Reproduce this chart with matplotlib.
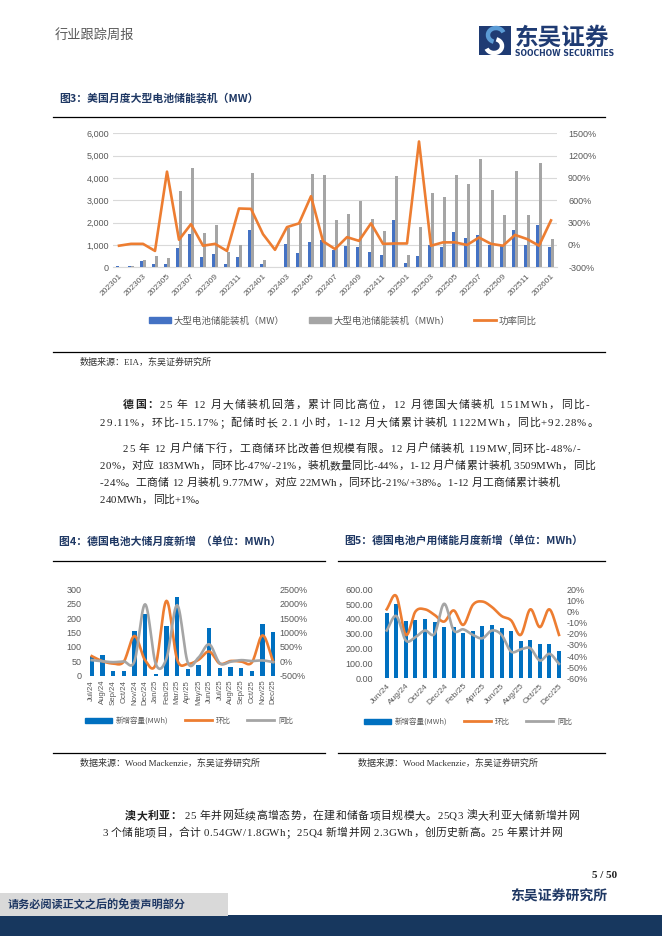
import numpy as np
import matplotlib
matplotlib.use('Agg')
import matplotlib.pyplot as plt
from matplotlib.lines import Line2D
from matplotlib.patches import Rectangle, Patch, Arc
from matplotlib.font_manager import FontProperties
from matplotlib.ticker import FuncFormatter, FixedLocator
from matplotlib.transforms import IdentityTransform

# ------------------------------------------------------------------ data
us_months = ['202301', '202302', '202303', '202304', '202305', '202306', '202307', '202308',
             '202309', '202310', '202311', '202312', '202401', '202402', '202403', '202404',
             '202405', '202406', '202407', '202408', '202409', '202410', '202411', '202412',
             '202501', '202502', '202503', '202504', '202505', '202506', '202507', '202508',
             '202509', '202510', '202511', '202512', '202601']
us_mw = [50, 70, 290, 170, 130, 880, 1500, 480, 580, 170, 440, 1660, 160, 30, 1030, 660,
         1140, 1240, 760, 950, 920, 700, 530, 2120, 200, 520, 980, 900, 1560, 1290, 1460, 1020,
         950, 1650, 1010, 1900, 930]
us_mwh = [30, 50, 330, 520, 430, 3420, 4430, 1550, 1900, 680, 980, 4220, 320, 20, 1750, 2000,
          4180, 4150, 2100, 2370, 2960, 2170, 1610, 4110, 560, 1820, 3320, 3130, 4130, 3740, 4870,
          3460, 2320, 4330, 2350, 4670, 1260]
us_yoy = [-10, 15, 15, -80, 985, 70, 280, -10, 15, -80, 490, 485, 145, -65, 240, 290,
          655, 50, -55, 105, 55, 290, 15, 20, 20, 1390, -10, 35, 35, 0, 100, 15,
          -10, 135, 80, -10, 330]
us_labels = ['大型电池储能装机（MW）', '大型电池储能装机（MWh）', '功率同比']

de_large_months = ['Jul/24', 'Aug/24', 'Sep/24', 'Oct/24', 'Nov/24', 'Dec/24', 'Jan/25', 'Feb/25',
                   'Mar/25', 'Apr/25', 'May/25', 'Jun/25', 'Jul/25', 'Aug/25', 'Sep/25', 'Oct/25',
                   'Nov/25', 'Dec/25']
de_large_mwh = [70, 72, 17, 15, 154, 213, 7, 174, 275, 25, 38, 167, 28, 31, 28, 17, 178, 151]
de_large_mom = [180, 5, -78, -12, 880, 38, -97, 2100, 60, -91, 52, 340, -83, 11, -10, -39, 900, -15]
de_large_yoy = [40, 0, -30, -5, 0, 1980, -95, 100, 1950, -50, 130, 590, -70, -15, 40, 10, 30, -29]

de_home_months = ['Jun/24', 'Jul/24', 'Aug/24', 'Sep/24', 'Oct/24', 'Nov/24', 'Dec/24', 'Jan/25',
                  'Feb/25', 'Mar/25', 'Apr/25', 'May/25', 'Jun/25', 'Jul/25', 'Aug/25', 'Sep/25',
                  'Oct/25', 'Nov/25', 'Dec/25']
de_home_mwh = [443, 499, 389, 396, 400, 378, 346, 346, 308, 321, 353, 362, 342, 321, 254, 261,
               229, 231, 184]
de_home_mom = [2, 14, -21, 0, 2, -3, -9, 1, -12, 6, 9, 4, -4, -8, -21, 2, -14, 2, -21]
de_home_yoy = [-17, -4, -26, -23, -17, -20, 7, -17, -16, -21, -24, -17, -21, -36, -34, -33,
               -44, -38, -47]
de_labels = ['新增容量(MWh)', '环比', '同比']

# ------------------------------------------------------------------ style
W, H = 662, 936
BLUE1 = '#4472C4'
GRAY1 = '#A5A5A5'
ORANGE = '#ED7D31'
BLUE2 = '#0070C0'
TICKC = '#595959'
NAVY = '#1F3864'
CJK = ['Noto Sans CJK SC', 'DejaVu Sans']
CHART = ['Liberation Sans', 'Noto Sans CJK SC']
BODY = ['Liberation Serif', 'Noto Sans CJK SC']

fig = plt.figure(figsize=(W / 100, H / 100), dpi=100)
fig.patch.set_facecolor('white')


def fx(x):
    return x / W


def fy(y):
    return 1 - y / H


def rect(x0, y0, x1, y1):
    return [fx(x0), fy(y1), (x1 - x0) / W, (y1 - y0) / H]


def smooth(x, y, n=14):
    P = np.column_stack([np.asarray(x, float), np.asarray(y, float)])
    P = np.vstack([P[0] - (P[1] - P[0]), P, P[-1] + (P[-1] - P[-2])])
    out = []
    t = np.linspace(0, 1, n, endpoint=False)[:, None]
    for i in range(1, len(P) - 2):
        p0, p1, p2, p3 = P[i - 1], P[i], P[i + 1], P[i + 2]
        pts = 0.5 * ((2 * p1) + (-p0 + p2) * t + (2 * p0 - 5 * p1 + 4 * p2 - p3) * t ** 2
                     + (-p0 + 3 * p1 - 3 * p2 + p3) * t ** 3)
        out.append(pts)
    out.append(P[-2][None, :])
    out = np.vstack(out)
    return out[:, 0], out[:, 1]


def hline(x0, x1, y, lw=0.9):
    fig.add_artist(Line2D([fx(x0), fx(x1)], [fy(y), fy(y)], color='black', lw=lw))


def clean(ax):
    for s in ax.spines.values():
        s.set_visible(False)
    ax.tick_params(length=0)


# ------------------------------------------------------------------ header
fig.text(fx(55), fy(35), '行业跟踪周报', fontsize=9.5, color='#595959',
         family=BODY, va='center', ha='left')
# logo icon
fig.add_artist(Rectangle((479, H - 55), 32, 29, transform=IdentityTransform(),
                         facecolor='#1F3B73', edgecolor='none'))
fig.add_artist(Arc((496, H - 35), 16, 14, theta1=20, theta2=250, transform=IdentityTransform(),
                   color='#5B9BD5', lw=3.2))
fig.add_artist(Arc((494, H - 46), 16, 14, theta1=200, theta2=430, transform=IdentityTransform(),
                   color='white', lw=3.2))
fig.text(fx(515), fy(37.5), '东吴证券', fontsize=17, fontweight='bold', color='#1F3B73',
         family=CJK, va='center', ha='left')
fig.text(fx(515), fy(54), 'SOOCHOW SECURITIES', fontsize=5.6, fontweight='bold', color='#1F3B73',
         family=['DejaVu Sans'], va='center', ha='left')

# ------------------------------------------------------------------ figure 3 title
fig.text(fx(59), fy(98), '图3：美国月度大型电池储能装机（MW）', fontsize=7.8, fontweight='bold',
         color=NAVY, family=CJK, va='center', ha='left')
hline(53, 605, 116.5)

# ------------------------------------------------------------------ chart 1
ax1 = fig.add_axes(rect(113, 133.3, 557, 267.3))
x1 = np.arange(len(us_months))
bw = 0.22
ax1.bar(x1 - bw / 2, us_mw, width=bw, color=BLUE1, zorder=3)
ax1.bar(x1 + bw / 2, us_mwh, width=bw, color=GRAY1, zorder=3)
ax1.set_xlim(-0.5, len(us_months) - 0.5)
ax1.set_ylim(0, 6000)
ax1.set_yticks(np.arange(0, 6001, 1000))
ax1.yaxis.set_major_formatter(FuncFormatter(lambda v, p: f'{int(v):,}'))
ax1.yaxis.grid(True, color='#D9D9D9', lw=0.8, zorder=0)
ax1.set_axisbelow(True)
clean(ax1)
ax1.spines['bottom'].set_visible(True)
ax1.spines['bottom'].set_color('#D9D9D9')
ax1.set_xticks(x1[::2])
ax1.set_xticklabels(us_months[::2], rotation=45, ha='right', rotation_mode='anchor',
                    fontsize=6, color=TICKC, family=CHART)
ax1.tick_params(axis='x', pad=4)
ax1.tick_params(axis='y', labelsize=6.5, labelcolor=TICKC, pad=3)
for lab in ax1.get_yticklabels():
    lab.set_family(CHART)
ax1b = ax1.twinx()
ax1b.plot(x1, us_yoy, color=ORANGE, lw=1.9, solid_joinstyle='round')
ax1b.set_ylim(-300, 1500)
ax1b.set_yticks(np.arange(-300, 1501, 300))
ax1b.yaxis.set_major_formatter(FuncFormatter(lambda v, p: f'{int(v)}%'))
clean(ax1b)
ax1b.tick_params(axis='y', labelsize=6.5, labelcolor=TICKC, pad=8)
for lab in ax1b.get_yticklabels():
    lab.set_family(CHART)

h1 = [Patch(color=BLUE1), Patch(color=GRAY1), Line2D([], [], color=ORANGE, lw=2)]
fig.legend(h1, us_labels, loc='center', bbox_to_anchor=(fx(343), fy(321)), ncol=3,
           frameon=False, prop=FontProperties(family=CJK, size=6.8), labelcolor=TICKC,
           handlelength=2.3, handleheight=0.6, columnspacing=2.6, handletextpad=0.25)

hline(53, 605, 351.5)
fig.text(fx(80), fy(362), '数据来源：EIA，东吴证券研究所', fontsize=6.5, color='#333333',
         family=BODY, va='center', ha='left')

# ------------------------------------------------------------------ body text (justified)
R = fig.canvas.get_renderer()
fp_reg = FontProperties(family=BODY, size=7.8)
fp_bold = FontProperties(family=CJK, size=7.8, weight='bold')


def jline(x0, x1, yc, segments, justify=True):
    chars = []
    for txt, fp in segments:
        for ch in txt:
            chars.append((ch, fp))
    widths = []
    for ch, fp in chars:
        w, h, d = R.get_text_width_height_descent(ch if ch != ' ' else 'a a', fp, ismath=False)
        if ch == ' ':
            w2, _, _ = R.get_text_width_height_descent('aa', fp, ismath=False)
            w = w - w2
        widths.append(w)
    total = sum(widths)
    gap = (x1 - x0 - total) / (len(chars) - 1) if (justify and len(chars) > 1) else 0.0
    xpos = x0
    for (ch, fp), w in zip(chars, widths):
        if ch != ' ':
            fig.text(fx(xpos), fy(yc + 3.8), ch, fontproperties=fp, color='#222222',
                     va='baseline', ha='left')
        xpos += w + gap


jline(123, 589, 404, [('德国：', fp_bold),
                      ('25 年 12 月大储装机回落，累计同比高位，12 月德国大储装机 151MWh，同比-', fp_reg)])
jline(100, 598, 422, [('29.11%，环比-15.17%；配储时长 2.1 小时，1-12 月大储累计装机 1122MWh，同比+92.28%。', fp_reg)])
jline(123, 580, 448, [('25 年 12 月户储下行，工商储环比改善但规模有限。12 月户储装机 119MW,同环比-48%/-', fp_reg)])
jline(100, 595, 465, [('20%，对应 183MWh，同环比-47%/-21%，装机数量同比-44%，1-12 月户储累计装机 3509MWh，同比', fp_reg)])
jline(100, 560, 482, [('-24%。工商储 12 月装机 9.77MW，对应 22MWh，同环比-21%/+38%。1-12 月工商储累计装机', fp_reg)])
jline(100, 0, 499, [('240MWh，同比+1%。', fp_reg)], justify=False)

# ------------------------------------------------------------------ figure 4 / 5 titles
fig.text(fx(59), fy(541), '图4：德国电池大储月度新增  （单位：MWh）', fontsize=7.8, fontweight='bold',
         color=NAVY, family=CJK, va='center', ha='left')
fig.text(fx(344), fy(541), '图5：德国电池户用储能月度新增（单位：MWh）', fontsize=7.8, fontweight='bold',
         color=NAVY, family=CJK, va='center', ha='left')
hline(53, 325, 561)
hline(338, 605, 561)

# ------------------------------------------------------------------ chart 4
ax4 = fig.add_axes(rect(86.4, 589.3, 278.6, 675.7))
x4 = np.arange(len(de_large_months))
ax4.bar(x4, de_large_mwh, width=0.4, color=BLUE2, zorder=2)
ax4.set_xlim(-0.5, len(x4) - 0.5)
ax4.set_ylim(0, 300)
ax4.set_yticks(np.arange(0, 301, 50))
clean(ax4)
ax4.set_xticks(x4)
ax4.set_xticklabels(de_large_months, rotation=90, fontsize=5.6, color=TICKC, family=CHART)
ax4.tick_params(axis='x', pad=3)
ax4.tick_params(axis='y', labelsize=6.5, labelcolor=TICKC, pad=3.5)
for lab in ax4.get_yticklabels():
    lab.set_family(CHART)
ax4b = ax4.twinx()
sx, sy = smooth(x4, de_large_mom)
ax4b.plot(sx, sy, color=ORANGE, lw=1.9)
sx, sy = smooth(x4, de_large_yoy)
ax4b.plot(sx, sy, color=GRAY1, lw=1.9)
ax4b.set_ylim(-500, 2500)
ax4b.set_yticks(np.arange(-500, 2501, 500))
ax4b.yaxis.set_major_formatter(FuncFormatter(lambda v, p: f'{int(v)}%'))
clean(ax4b)
ax4b.tick_params(axis='y', labelsize=6.5, labelcolor=TICKC, pad=0.5)
for lab in ax4b.get_yticklabels():
    lab.set_family(CHART)
h4 = [Patch(color=BLUE2), Line2D([], [], color=ORANGE, lw=2), Line2D([], [], color=GRAY1, lw=2)]
fig.legend(h4, de_labels, loc='center', bbox_to_anchor=(fx(189), fy(721)), ncol=3,
           frameon=False, prop=FontProperties(family=CJK, size=5.4), labelcolor=TICKC,
           handlelength=3.6, handleheight=0.7, columnspacing=2.2, handletextpad=0.5)

# ------------------------------------------------------------------ chart 5
ax5 = fig.add_axes(rect(381.9, 589.3, 563.8, 678.3))
x5 = np.arange(len(de_home_months))
ax5.bar(x5, de_home_mwh, width=0.42, color=BLUE2, zorder=2)
ax5.set_xlim(-0.5, len(x5) - 0.5)
ax5.set_ylim(0, 600)
ax5.set_yticks(np.arange(0, 601, 100))
ax5.yaxis.set_major_formatter(FuncFormatter(lambda v, p: f'{v:.2f}'))
clean(ax5)
ax5.set_xticks(x5[::2])
ax5.set_xticklabels(de_home_months[::2], rotation=45, ha='right', rotation_mode='anchor',
                    fontsize=6, color=TICKC, family=CHART)
ax5.tick_params(axis='x', pad=3)
ax5.tick_params(axis='y', labelsize=6.5, labelcolor=TICKC, pad=6.5)
for lab in ax5.get_yticklabels():
    lab.set_family(CHART)
ax5b = ax5.twinx()
sx, sy = smooth(x5, de_home_mom)
ax5b.plot(sx, sy, color=ORANGE, lw=1.9)
sx, sy = smooth(x5, de_home_yoy)
ax5b.plot(sx, sy, color=GRAY1, lw=1.9)
ax5b.set_ylim(-60, 20)
ax5b.set_yticks(np.arange(-60, 21, 10))
ax5b.yaxis.set_major_formatter(FuncFormatter(lambda v, p: f'{int(v)}%'))
clean(ax5b)
ax5b.tick_params(axis='y', labelsize=6.5, labelcolor=TICKC, pad=2)
for lab in ax5b.get_yticklabels():
    lab.set_family(CHART)
h5 = [Patch(color=BLUE2), Line2D([], [], color=ORANGE, lw=2), Line2D([], [], color=GRAY1, lw=2)]
fig.legend(h5, de_labels, loc='center', bbox_to_anchor=(fx(468), fy(722)), ncol=3,
           frameon=False, prop=FontProperties(family=CJK, size=5.4), labelcolor=TICKC,
           handlelength=3.6, handleheight=0.7, columnspacing=2.2, handletextpad=0.5)

# ------------------------------------------------------------------ sources
hline(53, 325, 753)
hline(338, 605, 753)
fig.text(fx(80), fy(763), '数据来源：Wood Mackenzie，东吴证券研究所', fontsize=6.5, color='#333333',
         family=BODY, va='center', ha='left')
fig.text(fx(358), fy(763), '数据来源：Wood Mackenzie，东吴证券研究所', fontsize=6.5, color='#333333',
         family=BODY, va='center', ha='left')

# ------------------------------------------------------------------ Australia paragraph
jline(125, 579, 815, [('澳大利亚：', fp_bold),
                      (' 25 年并网延续高增态势，在建和储备项目规模大。25Q3 澳大利亚大储新增并网', fp_reg)])
jline(102, 562, 832, [('3 个储能项目，合计 0.54GW/1.8GWh；25Q4 新增并网 2.3GWh，创历史新高。25 年累计并网', fp_reg)])

# ------------------------------------------------------------------ footer
fig.text(fx(617), fy(876), '5 / 50', fontsize=8, fontweight='bold', color='#222222',
         family=BODY, va='center', ha='right')
fig.text(fx(607), fy(897), '东吴证券研究所', fontsize=10, fontweight='bold', color=NAVY,
         family=CJK, va='center', ha='right')
fig.add_artist(Rectangle((0, fy(936)), 1, (936 - 915) / H, transform=fig.transFigure,
                         facecolor='#17375E', edgecolor='none'))
fig.add_artist(Rectangle((0, fy(916)), fx(228), (916 - 893) / H, transform=fig.transFigure,
                         facecolor='#D9D9D9', edgecolor='none'))
fig.text(fx(8), fy(905), '请务必阅读正文之后的免责声明部分', fontsize=8, fontweight='bold',
         color=NAVY, family=CJK, va='center', ha='left')

fig.savefig('out.png', dpi=100)
